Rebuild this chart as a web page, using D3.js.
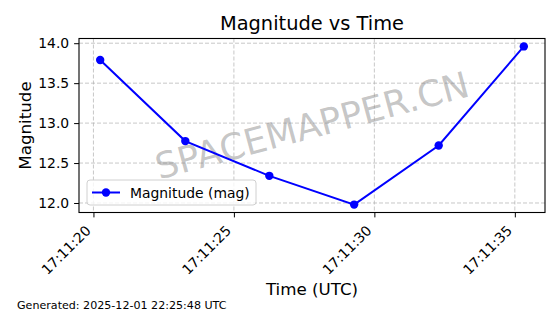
<!DOCTYPE html>
<html>
<head>
<meta charset="utf-8">
<script src="https://cdn.jsdelivr.net/npm/d3@7"></script>
<style>
  html, body { margin: 0; padding: 0; background: #fff; }
  svg { display: block; font-family: "DejaVu Sans", sans-serif; }
</style>
</head>
<body>
<svg id="chart" width="560" height="314"></svg>
<script>
// ---- data ----
const times = ["2025-12-01T17:11:20.24Z", "2025-12-01T17:11:23.27Z", "2025-12-01T17:11:26.26Z",
               "2025-12-01T17:11:29.28Z", "2025-12-01T17:11:32.29Z", "2025-12-01T17:11:35.32Z"];
const magnitudes = [13.79, 12.775, 12.34, 11.98, 12.72, 13.96];
const yTicks = [12.0, 12.5, 13.0, 13.5, 14.0];
const seriesName = "Magnitude (mag)";
const titleText = "Magnitude vs Time";
const xLabel = "Time (UTC)";
const yLabel = "Magnitude";
const footer = "Generated: 2025-12-01 22:25:48 UTC";
const watermark = "SPACEMAPPER.CN";

const data = times.map((t, i) => ({ t: new Date(t), v: magnitudes[i] }));

const svg = d3.select("#chart");
const L = 79, R = 545, T = 38.5, B = 212.5;

const tExt = d3.extent(data, d => +d.t);
const tPad = (tExt[1] - tExt[0]) * 0.05;
const x = d3.scaleUtc().domain([new Date(tExt[0] - tPad), new Date(tExt[1] + tPad)]).range([L, R]);
const vExt = d3.extent(data, d => d.v);
const vPad = (vExt[1] - vExt[0]) * 0.05;
const y = d3.scaleLinear().domain([vExt[0] - vPad, vExt[1] + vPad]).range([B, T]);

const xTicks = x.ticks(d3.utcSecond.every(5));

// grid
const grid = svg.append("g");
grid.selectAll(".gx").data(xTicks).enter().append("line")
  .attr("x1", d => x(d)).attr("x2", d => x(d)).attr("y1", T).attr("y2", B)
  .attr("stroke", "#b0b0b0").attr("stroke-opacity", 0.7).attr("stroke-width", 1)
  .attr("stroke-dasharray", "4,2");
grid.selectAll(".gy").data(yTicks).enter().append("line")
  .attr("x1", L).attr("x2", R).attr("y1", d => y(d)).attr("y2", d => y(d))
  .attr("stroke", "#b0b0b0").attr("stroke-opacity", 0.7).attr("stroke-width", 1)
  .attr("stroke-dasharray", "4,2");

// watermark
svg.append("text")
  .attr("transform", `translate(${(L + R) / 2},${(T + B) / 2}) rotate(-15)`)
  .attr("text-anchor", "middle").attr("dominant-baseline", "central")
  .attr("font-size", 36).attr("fill", "#808080").attr("fill-opacity", 0.45)
  .text(watermark);

// line + markers
svg.append("path").datum(data)
  .attr("d", d3.line().x(d => x(d.t)).y(d => y(d.v)))
  .attr("fill", "none").attr("stroke", "#0000ff").attr("stroke-width", 2);
svg.selectAll(".pt").data(data).enter().append("circle")
  .attr("cx", d => x(d.t)).attr("cy", d => y(d.v)).attr("r", 4.2).attr("fill", "#0000ff");

// axes
const xAxis = svg.append("g").attr("transform", `translate(0,${B})`)
  .call(d3.axisBottom(x).tickValues(xTicks).tickFormat(d3.utcFormat("%H:%M:%S")).tickSize(4.9).tickPadding(4.9));
xAxis.select(".domain").remove();
xAxis.selectAll("line").attr("stroke", "#000").attr("stroke-width", 1);
xAxis.selectAll("text")
  .attr("font-size", 13.9).attr("font-family", "DejaVu Sans, sans-serif").attr("fill", "#000")
  .attr("text-anchor", "end").attr("dy", null).attr("y", null)
  .attr("transform", "translate(-2.3,19) rotate(-45)");

const yAxis = svg.append("g").attr("transform", `translate(${L},0)`)
  .call(d3.axisLeft(y).tickValues(yTicks).tickFormat(d3.format(".1f")).tickSize(4.9).tickPadding(4.9));
yAxis.select(".domain").remove();
yAxis.selectAll("line").attr("stroke", "#000").attr("stroke-width", 1);
yAxis.selectAll("text").attr("font-size", 13.9).attr("font-family", "DejaVu Sans, sans-serif").attr("fill", "#000");

// frame
svg.append("rect").attr("x", L).attr("y", T).attr("width", R - L).attr("height", B - T)
  .attr("fill", "none").attr("stroke", "#000").attr("stroke-width", 1.1);

// legend
const lg = svg.append("g");
lg.append("rect").attr("x", 87).attr("y", 180).attr("width", 169).attr("height", 25).attr("rx", 3)
  .attr("fill", "#fff").attr("fill-opacity", 0.8).attr("stroke", "#d0d0d0").attr("stroke-width", 1);
lg.append("line").attr("x1", 92).attr("x2", 120).attr("y1", 192.5).attr("y2", 192.5)
  .attr("stroke", "#0000ff").attr("stroke-width", 2);
lg.append("circle").attr("cx", 106).attr("cy", 192.5).attr("r", 4.2).attr("fill", "#0000ff");
lg.append("text").attr("x", 130).attr("y", 192.5).attr("dominant-baseline", "central")
  .attr("font-size", 13.9).attr("fill", "#000").text(seriesName);

// title & labels
svg.append("text").attr("x", (L + R) / 2).attr("y", 30).attr("text-anchor", "middle")
  .attr("font-size", 19.4).attr("fill", "#000").text(titleText);
svg.append("text").attr("x", (L + R) / 2).attr("y", 295).attr("text-anchor", "middle")
  .attr("font-size", 16.7).attr("fill", "#000").text(xLabel);
svg.append("text").attr("transform", `translate(30.5,${(T + B) / 2}) rotate(-90)`).attr("text-anchor", "middle")
  .attr("font-size", 16.7).attr("fill", "#000").text(yLabel);
svg.append("text").attr("x", 17).attr("y", 309)
  .attr("font-size", 11.1).attr("fill", "#000").text(footer);
</script>
</body>
</html>
